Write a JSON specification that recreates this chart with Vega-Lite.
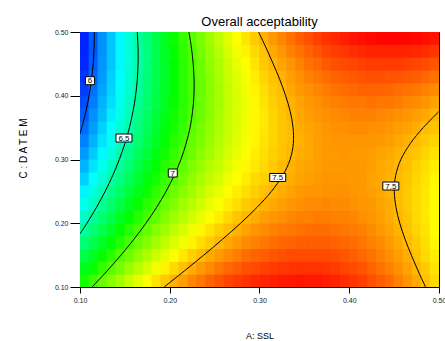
{
"$schema":"https://vega.github.io/schema/vega-lite/v6.json",
"width":359,"height":255,
"autosize":{"type":"none"},
"padding":{"left":80,"top":32,"right":6,"bottom":54},
"background":"white",
"config":{"view":{"stroke":"black","strokeWidth":1},"font":"Liberation Sans"},
"title":{"text":"Overall acceptability","fontSize":13,"fontWeight":"normal","font":"Liberation Sans","color":"black","offset":5,"baseline":"bottom","anchor":"middle","frame":"group","dy":19},
"datasets":{
"grid":[
{"A":0.105,"C":0.11,"z":6.88},{"A":0.115,"C":0.11,"z":6.96},{"A":0.125,"C":0.11,"z":7.04},{"A":0.135,"C":0.11,"z":7.11},{"A":0.145,"C":0.11,"z":7.17},{"A":0.155,"C":0.11,"z":7.24},{"A":0.165,"C":0.11,"z":7.30},{"A":0.175,"C":0.11,"z":7.36},{"A":0.185,"C":0.11,"z":7.41},{"A":0.195,"C":0.11,"z":7.46},{"A":0.205,"C":0.11,"z":7.51},{"A":0.215,"C":0.11,"z":7.55},{"A":0.225,"C":0.11,"z":7.60},{"A":0.235,"C":0.11,"z":7.63},{"A":0.245,"C":0.11,"z":7.67},{"A":0.255,"C":0.11,"z":7.70},{"A":0.265,"C":0.11,"z":7.73},{"A":0.275,"C":0.11,"z":7.75},{"A":0.285,"C":0.11,"z":7.77},{"A":0.295,"C":0.11,"z":7.79},{"A":0.305,"C":0.11,"z":7.80},{"A":0.315,"C":0.11,"z":7.81},{"A":0.325,"C":0.11,"z":7.82},{"A":0.335,"C":0.11,"z":7.82},{"A":0.345,"C":0.11,"z":7.83},{"A":0.355,"C":0.11,"z":7.82},{"A":0.365,"C":0.11,"z":7.82},{"A":0.375,"C":0.11,"z":7.81},{"A":0.385,"C":0.11,"z":7.80},{"A":0.395,"C":0.11,"z":7.78},{"A":0.405,"C":0.11,"z":7.76},{"A":0.415,"C":0.11,"z":7.74},{"A":0.425,"C":0.11,"z":7.71},{"A":0.435,"C":0.11,"z":7.68},{"A":0.445,"C":0.11,"z":7.65},{"A":0.455,"C":0.11,"z":7.61},{"A":0.465,"C":0.11,"z":7.57},{"A":0.475,"C":0.11,"z":7.53},{"A":0.485,"C":0.11,"z":7.48},{"A":0.495,"C":0.11,"z":7.43},
{"A":0.105,"C":0.13,"z":6.78},{"A":0.115,"C":0.13,"z":6.86},{"A":0.125,"C":0.13,"z":6.94},{"A":0.135,"C":0.13,"z":7.01},{"A":0.145,"C":0.13,"z":7.08},{"A":0.155,"C":0.13,"z":7.15},{"A":0.165,"C":0.13,"z":7.21},{"A":0.175,"C":0.13,"z":7.27},{"A":0.185,"C":0.13,"z":7.33},{"A":0.195,"C":0.13,"z":7.38},{"A":0.205,"C":0.13,"z":7.43},{"A":0.215,"C":0.13,"z":7.48},{"A":0.225,"C":0.13,"z":7.52},{"A":0.235,"C":0.13,"z":7.56},{"A":0.245,"C":0.13,"z":7.59},{"A":0.255,"C":0.13,"z":7.63},{"A":0.265,"C":0.13,"z":7.66},{"A":0.275,"C":0.13,"z":7.68},{"A":0.285,"C":0.13,"z":7.71},{"A":0.295,"C":0.13,"z":7.72},{"A":0.305,"C":0.13,"z":7.74},{"A":0.315,"C":0.13,"z":7.75},{"A":0.325,"C":0.13,"z":7.76},{"A":0.335,"C":0.13,"z":7.77},{"A":0.345,"C":0.13,"z":7.77},{"A":0.355,"C":0.13,"z":7.77},{"A":0.365,"C":0.13,"z":7.77},{"A":0.375,"C":0.13,"z":7.76},{"A":0.385,"C":0.13,"z":7.75},{"A":0.395,"C":0.13,"z":7.73},{"A":0.405,"C":0.13,"z":7.72},{"A":0.415,"C":0.13,"z":7.70},{"A":0.425,"C":0.13,"z":7.67},{"A":0.435,"C":0.13,"z":7.64},{"A":0.445,"C":0.13,"z":7.61},{"A":0.455,"C":0.13,"z":7.58},{"A":0.465,"C":0.13,"z":7.54},{"A":0.475,"C":0.13,"z":7.50},{"A":0.485,"C":0.13,"z":7.46},{"A":0.495,"C":0.13,"z":7.41},
{"A":0.105,"C":0.15,"z":6.69},{"A":0.115,"C":0.15,"z":6.77},{"A":0.125,"C":0.15,"z":6.85},{"A":0.135,"C":0.15,"z":6.92},{"A":0.145,"C":0.15,"z":7.00},{"A":0.155,"C":0.15,"z":7.06},{"A":0.165,"C":0.15,"z":7.13},{"A":0.175,"C":0.15,"z":7.19},{"A":0.185,"C":0.15,"z":7.25},{"A":0.195,"C":0.15,"z":7.30},{"A":0.205,"C":0.15,"z":7.35},{"A":0.215,"C":0.15,"z":7.40},{"A":0.225,"C":0.15,"z":7.45},{"A":0.235,"C":0.15,"z":7.49},{"A":0.245,"C":0.15,"z":7.53},{"A":0.255,"C":0.15,"z":7.56},{"A":0.265,"C":0.15,"z":7.59},{"A":0.275,"C":0.15,"z":7.62},{"A":0.285,"C":0.15,"z":7.65},{"A":0.295,"C":0.15,"z":7.67},{"A":0.305,"C":0.15,"z":7.68},{"A":0.315,"C":0.15,"z":7.70},{"A":0.325,"C":0.15,"z":7.71},{"A":0.335,"C":0.15,"z":7.72},{"A":0.345,"C":0.15,"z":7.72},{"A":0.355,"C":0.15,"z":7.72},{"A":0.365,"C":0.15,"z":7.72},{"A":0.375,"C":0.15,"z":7.72},{"A":0.385,"C":0.15,"z":7.71},{"A":0.395,"C":0.15,"z":7.70},{"A":0.405,"C":0.15,"z":7.68},{"A":0.415,"C":0.15,"z":7.66},{"A":0.425,"C":0.15,"z":7.64},{"A":0.435,"C":0.15,"z":7.61},{"A":0.445,"C":0.15,"z":7.58},{"A":0.455,"C":0.15,"z":7.55},{"A":0.465,"C":0.15,"z":7.52},{"A":0.475,"C":0.15,"z":7.48},{"A":0.485,"C":0.15,"z":7.43},{"A":0.495,"C":0.15,"z":7.39},
{"A":0.105,"C":0.17,"z":6.60},{"A":0.115,"C":0.17,"z":6.68},{"A":0.125,"C":0.17,"z":6.76},{"A":0.135,"C":0.17,"z":6.84},{"A":0.145,"C":0.17,"z":6.91},{"A":0.155,"C":0.17,"z":6.98},{"A":0.165,"C":0.17,"z":7.05},{"A":0.175,"C":0.17,"z":7.11},{"A":0.185,"C":0.17,"z":7.17},{"A":0.195,"C":0.17,"z":7.23},{"A":0.205,"C":0.17,"z":7.28},{"A":0.215,"C":0.17,"z":7.33},{"A":0.225,"C":0.17,"z":7.38},{"A":0.235,"C":0.17,"z":7.42},{"A":0.245,"C":0.17,"z":7.46},{"A":0.255,"C":0.17,"z":7.50},{"A":0.265,"C":0.17,"z":7.53},{"A":0.275,"C":0.17,"z":7.56},{"A":0.285,"C":0.17,"z":7.59},{"A":0.295,"C":0.17,"z":7.61},{"A":0.305,"C":0.17,"z":7.63},{"A":0.315,"C":0.17,"z":7.65},{"A":0.325,"C":0.17,"z":7.66},{"A":0.335,"C":0.17,"z":7.67},{"A":0.345,"C":0.17,"z":7.68},{"A":0.355,"C":0.17,"z":7.68},{"A":0.365,"C":0.17,"z":7.68},{"A":0.375,"C":0.17,"z":7.68},{"A":0.385,"C":0.17,"z":7.67},{"A":0.395,"C":0.17,"z":7.66},{"A":0.405,"C":0.17,"z":7.65},{"A":0.415,"C":0.17,"z":7.63},{"A":0.425,"C":0.17,"z":7.61},{"A":0.435,"C":0.17,"z":7.59},{"A":0.445,"C":0.17,"z":7.56},{"A":0.455,"C":0.17,"z":7.53},{"A":0.465,"C":0.17,"z":7.49},{"A":0.475,"C":0.17,"z":7.46},{"A":0.485,"C":0.17,"z":7.42},{"A":0.495,"C":0.17,"z":7.37},
{"A":0.105,"C":0.19,"z":6.52},{"A":0.115,"C":0.19,"z":6.60},{"A":0.125,"C":0.19,"z":6.68},{"A":0.135,"C":0.19,"z":6.76},{"A":0.145,"C":0.19,"z":6.84},{"A":0.155,"C":0.19,"z":6.91},{"A":0.165,"C":0.19,"z":6.98},{"A":0.175,"C":0.19,"z":7.04},{"A":0.185,"C":0.19,"z":7.11},{"A":0.195,"C":0.19,"z":7.16},{"A":0.205,"C":0.19,"z":7.22},{"A":0.215,"C":0.19,"z":7.27},{"A":0.225,"C":0.19,"z":7.32},{"A":0.235,"C":0.19,"z":7.37},{"A":0.245,"C":0.19,"z":7.41},{"A":0.255,"C":0.19,"z":7.45},{"A":0.265,"C":0.19,"z":7.48},{"A":0.275,"C":0.19,"z":7.51},{"A":0.285,"C":0.19,"z":7.54},{"A":0.295,"C":0.19,"z":7.57},{"A":0.305,"C":0.19,"z":7.59},{"A":0.315,"C":0.19,"z":7.61},{"A":0.325,"C":0.19,"z":7.62},{"A":0.335,"C":0.19,"z":7.63},{"A":0.345,"C":0.19,"z":7.64},{"A":0.355,"C":0.19,"z":7.65},{"A":0.365,"C":0.19,"z":7.65},{"A":0.375,"C":0.19,"z":7.65},{"A":0.385,"C":0.19,"z":7.64},{"A":0.395,"C":0.19,"z":7.63},{"A":0.405,"C":0.19,"z":7.62},{"A":0.415,"C":0.19,"z":7.61},{"A":0.425,"C":0.19,"z":7.59},{"A":0.435,"C":0.19,"z":7.56},{"A":0.445,"C":0.19,"z":7.54},{"A":0.455,"C":0.19,"z":7.51},{"A":0.465,"C":0.19,"z":7.48},{"A":0.475,"C":0.19,"z":7.44},{"A":0.485,"C":0.19,"z":7.41},{"A":0.495,"C":0.19,"z":7.36},
{"A":0.105,"C":0.21,"z":6.44},{"A":0.115,"C":0.21,"z":6.53},{"A":0.125,"C":0.21,"z":6.61},{"A":0.135,"C":0.21,"z":6.69},{"A":0.145,"C":0.21,"z":6.77},{"A":0.155,"C":0.21,"z":6.84},{"A":0.165,"C":0.21,"z":6.91},{"A":0.175,"C":0.21,"z":6.98},{"A":0.185,"C":0.21,"z":7.04},{"A":0.195,"C":0.21,"z":7.10},{"A":0.205,"C":0.21,"z":7.16},{"A":0.215,"C":0.21,"z":7.21},{"A":0.225,"C":0.21,"z":7.26},{"A":0.235,"C":0.21,"z":7.31},{"A":0.245,"C":0.21,"z":7.35},{"A":0.255,"C":0.21,"z":7.39},{"A":0.265,"C":0.21,"z":7.43},{"A":0.275,"C":0.21,"z":7.47},{"A":0.285,"C":0.21,"z":7.50},{"A":0.295,"C":0.21,"z":7.52},{"A":0.305,"C":0.21,"z":7.55},{"A":0.315,"C":0.21,"z":7.57},{"A":0.325,"C":0.21,"z":7.58},{"A":0.335,"C":0.21,"z":7.60},{"A":0.345,"C":0.21,"z":7.61},{"A":0.355,"C":0.21,"z":7.61},{"A":0.365,"C":0.21,"z":7.62},{"A":0.375,"C":0.21,"z":7.62},{"A":0.385,"C":0.21,"z":7.61},{"A":0.395,"C":0.21,"z":7.61},{"A":0.405,"C":0.21,"z":7.60},{"A":0.415,"C":0.21,"z":7.58},{"A":0.425,"C":0.21,"z":7.57},{"A":0.435,"C":0.21,"z":7.55},{"A":0.445,"C":0.21,"z":7.52},{"A":0.455,"C":0.21,"z":7.50},{"A":0.465,"C":0.21,"z":7.47},{"A":0.475,"C":0.21,"z":7.43},{"A":0.485,"C":0.21,"z":7.40},{"A":0.495,"C":0.21,"z":7.36},
{"A":0.105,"C":0.23,"z":6.36},{"A":0.115,"C":0.23,"z":6.45},{"A":0.125,"C":0.23,"z":6.54},{"A":0.135,"C":0.23,"z":6.62},{"A":0.145,"C":0.23,"z":6.70},{"A":0.155,"C":0.23,"z":6.78},{"A":0.165,"C":0.23,"z":6.85},{"A":0.175,"C":0.23,"z":6.92},{"A":0.185,"C":0.23,"z":6.98},{"A":0.195,"C":0.23,"z":7.05},{"A":0.205,"C":0.23,"z":7.10},{"A":0.215,"C":0.23,"z":7.16},{"A":0.225,"C":0.23,"z":7.21},{"A":0.235,"C":0.23,"z":7.26},{"A":0.245,"C":0.23,"z":7.31},{"A":0.255,"C":0.23,"z":7.35},{"A":0.265,"C":0.23,"z":7.39},{"A":0.275,"C":0.23,"z":7.42},{"A":0.285,"C":0.23,"z":7.46},{"A":0.295,"C":0.23,"z":7.48},{"A":0.305,"C":0.23,"z":7.51},{"A":0.315,"C":0.23,"z":7.53},{"A":0.325,"C":0.23,"z":7.55},{"A":0.335,"C":0.23,"z":7.57},{"A":0.345,"C":0.23,"z":7.58},{"A":0.355,"C":0.23,"z":7.59},{"A":0.365,"C":0.23,"z":7.59},{"A":0.375,"C":0.23,"z":7.60},{"A":0.385,"C":0.23,"z":7.59},{"A":0.395,"C":0.23,"z":7.59},{"A":0.405,"C":0.23,"z":7.58},{"A":0.415,"C":0.23,"z":7.57},{"A":0.425,"C":0.23,"z":7.56},{"A":0.435,"C":0.23,"z":7.54},{"A":0.445,"C":0.23,"z":7.52},{"A":0.455,"C":0.23,"z":7.49},{"A":0.465,"C":0.23,"z":7.46},{"A":0.475,"C":0.23,"z":7.43},{"A":0.485,"C":0.23,"z":7.40},{"A":0.495,"C":0.23,"z":7.36},
{"A":0.105,"C":0.25,"z":6.30},{"A":0.115,"C":0.25,"z":6.39},{"A":0.125,"C":0.25,"z":6.47},{"A":0.135,"C":0.25,"z":6.56},{"A":0.145,"C":0.25,"z":6.64},{"A":0.155,"C":0.25,"z":6.72},{"A":0.165,"C":0.25,"z":6.79},{"A":0.175,"C":0.25,"z":6.86},{"A":0.185,"C":0.25,"z":6.93},{"A":0.195,"C":0.25,"z":6.99},{"A":0.205,"C":0.25,"z":7.06},{"A":0.215,"C":0.25,"z":7.11},{"A":0.225,"C":0.25,"z":7.17},{"A":0.235,"C":0.25,"z":7.22},{"A":0.245,"C":0.25,"z":7.27},{"A":0.255,"C":0.25,"z":7.31},{"A":0.265,"C":0.25,"z":7.35},{"A":0.275,"C":0.25,"z":7.39},{"A":0.285,"C":0.25,"z":7.42},{"A":0.295,"C":0.25,"z":7.45},{"A":0.305,"C":0.25,"z":7.48},{"A":0.315,"C":0.25,"z":7.50},{"A":0.325,"C":0.25,"z":7.52},{"A":0.335,"C":0.25,"z":7.54},{"A":0.345,"C":0.25,"z":7.56},{"A":0.355,"C":0.25,"z":7.57},{"A":0.365,"C":0.25,"z":7.57},{"A":0.375,"C":0.25,"z":7.58},{"A":0.385,"C":0.25,"z":7.58},{"A":0.395,"C":0.25,"z":7.58},{"A":0.405,"C":0.25,"z":7.57},{"A":0.415,"C":0.25,"z":7.56},{"A":0.425,"C":0.25,"z":7.55},{"A":0.435,"C":0.25,"z":7.53},{"A":0.445,"C":0.25,"z":7.51},{"A":0.455,"C":0.25,"z":7.49},{"A":0.465,"C":0.25,"z":7.46},{"A":0.475,"C":0.25,"z":7.43},{"A":0.485,"C":0.25,"z":7.40},{"A":0.495,"C":0.25,"z":7.36},
{"A":0.105,"C":0.27,"z":6.23},{"A":0.115,"C":0.27,"z":6.33},{"A":0.125,"C":0.27,"z":6.41},{"A":0.135,"C":0.27,"z":6.50},{"A":0.145,"C":0.27,"z":6.58},{"A":0.155,"C":0.27,"z":6.66},{"A":0.165,"C":0.27,"z":6.74},{"A":0.175,"C":0.27,"z":6.81},{"A":0.185,"C":0.27,"z":6.88},{"A":0.195,"C":0.27,"z":6.95},{"A":0.205,"C":0.27,"z":7.01},{"A":0.215,"C":0.27,"z":7.07},{"A":0.225,"C":0.27,"z":7.13},{"A":0.235,"C":0.27,"z":7.18},{"A":0.245,"C":0.27,"z":7.23},{"A":0.255,"C":0.27,"z":7.27},{"A":0.265,"C":0.27,"z":7.32},{"A":0.275,"C":0.27,"z":7.36},{"A":0.285,"C":0.27,"z":7.39},{"A":0.295,"C":0.27,"z":7.43},{"A":0.305,"C":0.27,"z":7.45},{"A":0.315,"C":0.27,"z":7.48},{"A":0.325,"C":0.27,"z":7.50},{"A":0.335,"C":0.27,"z":7.52},{"A":0.345,"C":0.27,"z":7.54},{"A":0.355,"C":0.27,"z":7.55},{"A":0.365,"C":0.27,"z":7.56},{"A":0.375,"C":0.27,"z":7.57},{"A":0.385,"C":0.27,"z":7.57},{"A":0.395,"C":0.27,"z":7.57},{"A":0.405,"C":0.27,"z":7.56},{"A":0.415,"C":0.27,"z":7.56},{"A":0.425,"C":0.27,"z":7.54},{"A":0.435,"C":0.27,"z":7.53},{"A":0.445,"C":0.27,"z":7.51},{"A":0.455,"C":0.27,"z":7.49},{"A":0.465,"C":0.27,"z":7.47},{"A":0.475,"C":0.27,"z":7.44},{"A":0.485,"C":0.27,"z":7.41},{"A":0.495,"C":0.27,"z":7.37},
{"A":0.105,"C":0.29,"z":6.17},{"A":0.115,"C":0.29,"z":6.27},{"A":0.125,"C":0.29,"z":6.36},{"A":0.135,"C":0.29,"z":6.45},{"A":0.145,"C":0.29,"z":6.53},{"A":0.155,"C":0.29,"z":6.61},{"A":0.165,"C":0.29,"z":6.69},{"A":0.175,"C":0.29,"z":6.77},{"A":0.185,"C":0.29,"z":6.84},{"A":0.195,"C":0.29,"z":6.91},{"A":0.205,"C":0.29,"z":6.97},{"A":0.215,"C":0.29,"z":7.03},{"A":0.225,"C":0.29,"z":7.09},{"A":0.235,"C":0.29,"z":7.15},{"A":0.245,"C":0.29,"z":7.20},{"A":0.255,"C":0.29,"z":7.24},{"A":0.265,"C":0.29,"z":7.29},{"A":0.275,"C":0.29,"z":7.33},{"A":0.285,"C":0.29,"z":7.37},{"A":0.295,"C":0.29,"z":7.40},{"A":0.305,"C":0.29,"z":7.43},{"A":0.315,"C":0.29,"z":7.46},{"A":0.325,"C":0.29,"z":7.49},{"A":0.335,"C":0.29,"z":7.51},{"A":0.345,"C":0.29,"z":7.53},{"A":0.355,"C":0.29,"z":7.54},{"A":0.365,"C":0.29,"z":7.55},{"A":0.375,"C":0.29,"z":7.56},{"A":0.385,"C":0.29,"z":7.56},{"A":0.395,"C":0.29,"z":7.56},{"A":0.405,"C":0.29,"z":7.56},{"A":0.415,"C":0.29,"z":7.56},{"A":0.425,"C":0.29,"z":7.55},{"A":0.435,"C":0.29,"z":7.53},{"A":0.445,"C":0.29,"z":7.52},{"A":0.455,"C":0.29,"z":7.50},{"A":0.465,"C":0.29,"z":7.48},{"A":0.475,"C":0.29,"z":7.45},{"A":0.485,"C":0.29,"z":7.42},{"A":0.495,"C":0.29,"z":7.39},
{"A":0.105,"C":0.31,"z":6.12},{"A":0.115,"C":0.31,"z":6.22},{"A":0.125,"C":0.31,"z":6.31},{"A":0.135,"C":0.31,"z":6.40},{"A":0.145,"C":0.31,"z":6.49},{"A":0.155,"C":0.31,"z":6.57},{"A":0.165,"C":0.31,"z":6.65},{"A":0.175,"C":0.31,"z":6.73},{"A":0.185,"C":0.31,"z":6.80},{"A":0.195,"C":0.31,"z":6.87},{"A":0.205,"C":0.31,"z":6.94},{"A":0.215,"C":0.31,"z":7.00},{"A":0.225,"C":0.31,"z":7.06},{"A":0.235,"C":0.31,"z":7.12},{"A":0.245,"C":0.31,"z":7.17},{"A":0.255,"C":0.31,"z":7.22},{"A":0.265,"C":0.31,"z":7.27},{"A":0.275,"C":0.31,"z":7.31},{"A":0.285,"C":0.31,"z":7.35},{"A":0.295,"C":0.31,"z":7.39},{"A":0.305,"C":0.31,"z":7.42},{"A":0.315,"C":0.31,"z":7.45},{"A":0.325,"C":0.31,"z":7.47},{"A":0.335,"C":0.31,"z":7.50},{"A":0.345,"C":0.31,"z":7.52},{"A":0.355,"C":0.31,"z":7.53},{"A":0.365,"C":0.31,"z":7.55},{"A":0.375,"C":0.31,"z":7.56},{"A":0.385,"C":0.31,"z":7.56},{"A":0.395,"C":0.31,"z":7.57},{"A":0.405,"C":0.31,"z":7.56},{"A":0.415,"C":0.31,"z":7.56},{"A":0.425,"C":0.31,"z":7.55},{"A":0.435,"C":0.31,"z":7.54},{"A":0.445,"C":0.31,"z":7.53},{"A":0.455,"C":0.31,"z":7.51},{"A":0.465,"C":0.31,"z":7.49},{"A":0.475,"C":0.31,"z":7.47},{"A":0.485,"C":0.31,"z":7.44},{"A":0.495,"C":0.31,"z":7.41},
{"A":0.105,"C":0.33,"z":6.07},{"A":0.115,"C":0.33,"z":6.17},{"A":0.125,"C":0.33,"z":6.27},{"A":0.135,"C":0.33,"z":6.36},{"A":0.145,"C":0.33,"z":6.45},{"A":0.155,"C":0.33,"z":6.53},{"A":0.165,"C":0.33,"z":6.61},{"A":0.175,"C":0.33,"z":6.69},{"A":0.185,"C":0.33,"z":6.77},{"A":0.195,"C":0.33,"z":6.84},{"A":0.205,"C":0.33,"z":6.91},{"A":0.215,"C":0.33,"z":6.97},{"A":0.225,"C":0.33,"z":7.04},{"A":0.235,"C":0.33,"z":7.09},{"A":0.245,"C":0.33,"z":7.15},{"A":0.255,"C":0.33,"z":7.20},{"A":0.265,"C":0.33,"z":7.25},{"A":0.275,"C":0.33,"z":7.29},{"A":0.285,"C":0.33,"z":7.34},{"A":0.295,"C":0.33,"z":7.37},{"A":0.305,"C":0.33,"z":7.41},{"A":0.315,"C":0.33,"z":7.44},{"A":0.325,"C":0.33,"z":7.47},{"A":0.335,"C":0.33,"z":7.49},{"A":0.345,"C":0.33,"z":7.51},{"A":0.355,"C":0.33,"z":7.53},{"A":0.365,"C":0.33,"z":7.55},{"A":0.375,"C":0.33,"z":7.56},{"A":0.385,"C":0.33,"z":7.57},{"A":0.395,"C":0.33,"z":7.57},{"A":0.405,"C":0.33,"z":7.57},{"A":0.415,"C":0.33,"z":7.57},{"A":0.425,"C":0.33,"z":7.57},{"A":0.435,"C":0.33,"z":7.56},{"A":0.445,"C":0.33,"z":7.55},{"A":0.455,"C":0.33,"z":7.53},{"A":0.465,"C":0.33,"z":7.51},{"A":0.475,"C":0.33,"z":7.49},{"A":0.485,"C":0.33,"z":7.46},{"A":0.495,"C":0.33,"z":7.44},
{"A":0.105,"C":0.35,"z":6.03},{"A":0.115,"C":0.35,"z":6.13},{"A":0.125,"C":0.35,"z":6.23},{"A":0.135,"C":0.35,"z":6.32},{"A":0.145,"C":0.35,"z":6.41},{"A":0.155,"C":0.35,"z":6.50},{"A":0.165,"C":0.35,"z":6.58},{"A":0.175,"C":0.35,"z":6.66},{"A":0.185,"C":0.35,"z":6.74},{"A":0.195,"C":0.35,"z":6.81},{"A":0.205,"C":0.35,"z":6.88},{"A":0.215,"C":0.35,"z":6.95},{"A":0.225,"C":0.35,"z":7.02},{"A":0.235,"C":0.35,"z":7.08},{"A":0.245,"C":0.35,"z":7.13},{"A":0.255,"C":0.35,"z":7.19},{"A":0.265,"C":0.35,"z":7.24},{"A":0.275,"C":0.35,"z":7.28},{"A":0.285,"C":0.35,"z":7.33},{"A":0.295,"C":0.35,"z":7.37},{"A":0.305,"C":0.35,"z":7.40},{"A":0.315,"C":0.35,"z":7.44},{"A":0.325,"C":0.35,"z":7.47},{"A":0.335,"C":0.35,"z":7.49},{"A":0.345,"C":0.35,"z":7.52},{"A":0.355,"C":0.35,"z":7.54},{"A":0.365,"C":0.35,"z":7.55},{"A":0.375,"C":0.35,"z":7.57},{"A":0.385,"C":0.35,"z":7.58},{"A":0.395,"C":0.35,"z":7.58},{"A":0.405,"C":0.35,"z":7.59},{"A":0.415,"C":0.35,"z":7.59},{"A":0.425,"C":0.35,"z":7.58},{"A":0.435,"C":0.35,"z":7.58},{"A":0.445,"C":0.35,"z":7.57},{"A":0.455,"C":0.35,"z":7.55},{"A":0.465,"C":0.35,"z":7.54},{"A":0.475,"C":0.35,"z":7.52},{"A":0.485,"C":0.35,"z":7.49},{"A":0.495,"C":0.35,"z":7.47},
{"A":0.105,"C":0.37,"z":5.99},{"A":0.115,"C":0.37,"z":6.10},{"A":0.125,"C":0.37,"z":6.19},{"A":0.135,"C":0.37,"z":6.29},{"A":0.145,"C":0.37,"z":6.38},{"A":0.155,"C":0.37,"z":6.47},{"A":0.165,"C":0.37,"z":6.56},{"A":0.175,"C":0.37,"z":6.64},{"A":0.185,"C":0.37,"z":6.72},{"A":0.195,"C":0.37,"z":6.79},{"A":0.205,"C":0.37,"z":6.87},{"A":0.215,"C":0.37,"z":6.93},{"A":0.225,"C":0.37,"z":7.00},{"A":0.235,"C":0.37,"z":7.06},{"A":0.245,"C":0.37,"z":7.12},{"A":0.255,"C":0.37,"z":7.18},{"A":0.265,"C":0.37,"z":7.23},{"A":0.275,"C":0.37,"z":7.28},{"A":0.285,"C":0.37,"z":7.32},{"A":0.295,"C":0.37,"z":7.37},{"A":0.305,"C":0.37,"z":7.40},{"A":0.315,"C":0.37,"z":7.44},{"A":0.325,"C":0.37,"z":7.47},{"A":0.335,"C":0.37,"z":7.50},{"A":0.345,"C":0.37,"z":7.53},{"A":0.355,"C":0.37,"z":7.55},{"A":0.365,"C":0.37,"z":7.57},{"A":0.375,"C":0.37,"z":7.58},{"A":0.385,"C":0.37,"z":7.59},{"A":0.395,"C":0.37,"z":7.60},{"A":0.405,"C":0.37,"z":7.61},{"A":0.415,"C":0.37,"z":7.61},{"A":0.425,"C":0.37,"z":7.61},{"A":0.435,"C":0.37,"z":7.60},{"A":0.445,"C":0.37,"z":7.59},{"A":0.455,"C":0.37,"z":7.58},{"A":0.465,"C":0.37,"z":7.57},{"A":0.475,"C":0.37,"z":7.55},{"A":0.485,"C":0.37,"z":7.53},{"A":0.495,"C":0.37,"z":7.50},
{"A":0.105,"C":0.39,"z":5.96},{"A":0.115,"C":0.39,"z":6.06},{"A":0.125,"C":0.39,"z":6.17},{"A":0.135,"C":0.39,"z":6.26},{"A":0.145,"C":0.39,"z":6.36},{"A":0.155,"C":0.39,"z":6.45},{"A":0.165,"C":0.39,"z":6.54},{"A":0.175,"C":0.39,"z":6.62},{"A":0.185,"C":0.39,"z":6.70},{"A":0.195,"C":0.39,"z":6.78},{"A":0.205,"C":0.39,"z":6.85},{"A":0.215,"C":0.39,"z":6.92},{"A":0.225,"C":0.39,"z":6.99},{"A":0.235,"C":0.39,"z":7.05},{"A":0.245,"C":0.39,"z":7.12},{"A":0.255,"C":0.39,"z":7.17},{"A":0.265,"C":0.39,"z":7.23},{"A":0.275,"C":0.39,"z":7.28},{"A":0.285,"C":0.39,"z":7.32},{"A":0.295,"C":0.39,"z":7.37},{"A":0.305,"C":0.39,"z":7.41},{"A":0.315,"C":0.39,"z":7.45},{"A":0.325,"C":0.39,"z":7.48},{"A":0.335,"C":0.39,"z":7.51},{"A":0.345,"C":0.39,"z":7.54},{"A":0.355,"C":0.39,"z":7.56},{"A":0.365,"C":0.39,"z":7.58},{"A":0.375,"C":0.39,"z":7.60},{"A":0.385,"C":0.39,"z":7.61},{"A":0.395,"C":0.39,"z":7.62},{"A":0.405,"C":0.39,"z":7.63},{"A":0.415,"C":0.39,"z":7.63},{"A":0.425,"C":0.39,"z":7.64},{"A":0.435,"C":0.39,"z":7.63},{"A":0.445,"C":0.39,"z":7.63},{"A":0.455,"C":0.39,"z":7.62},{"A":0.465,"C":0.39,"z":7.60},{"A":0.475,"C":0.39,"z":7.59},{"A":0.485,"C":0.39,"z":7.57},{"A":0.495,"C":0.39,"z":7.54},
{"A":0.105,"C":0.41,"z":5.93},{"A":0.115,"C":0.41,"z":6.04},{"A":0.125,"C":0.41,"z":6.14},{"A":0.135,"C":0.41,"z":6.24},{"A":0.145,"C":0.41,"z":6.34},{"A":0.155,"C":0.41,"z":6.43},{"A":0.165,"C":0.41,"z":6.52},{"A":0.175,"C":0.41,"z":6.61},{"A":0.185,"C":0.41,"z":6.69},{"A":0.195,"C":0.41,"z":6.77},{"A":0.205,"C":0.41,"z":6.84},{"A":0.215,"C":0.41,"z":6.92},{"A":0.225,"C":0.41,"z":6.99},{"A":0.235,"C":0.41,"z":7.05},{"A":0.245,"C":0.41,"z":7.11},{"A":0.255,"C":0.41,"z":7.17},{"A":0.265,"C":0.41,"z":7.23},{"A":0.275,"C":0.41,"z":7.28},{"A":0.285,"C":0.41,"z":7.33},{"A":0.295,"C":0.41,"z":7.38},{"A":0.305,"C":0.41,"z":7.42},{"A":0.315,"C":0.41,"z":7.46},{"A":0.325,"C":0.41,"z":7.49},{"A":0.335,"C":0.41,"z":7.53},{"A":0.345,"C":0.41,"z":7.56},{"A":0.355,"C":0.41,"z":7.58},{"A":0.365,"C":0.41,"z":7.60},{"A":0.375,"C":0.41,"z":7.62},{"A":0.385,"C":0.41,"z":7.64},{"A":0.395,"C":0.41,"z":7.65},{"A":0.405,"C":0.41,"z":7.66},{"A":0.415,"C":0.41,"z":7.67},{"A":0.425,"C":0.41,"z":7.67},{"A":0.435,"C":0.41,"z":7.67},{"A":0.445,"C":0.41,"z":7.66},{"A":0.455,"C":0.41,"z":7.65},{"A":0.465,"C":0.41,"z":7.64},{"A":0.475,"C":0.41,"z":7.63},{"A":0.485,"C":0.41,"z":7.61},{"A":0.495,"C":0.41,"z":7.59},
{"A":0.105,"C":0.43,"z":5.91},{"A":0.115,"C":0.43,"z":6.02},{"A":0.125,"C":0.43,"z":6.12},{"A":0.135,"C":0.43,"z":6.23},{"A":0.145,"C":0.43,"z":6.32},{"A":0.155,"C":0.43,"z":6.42},{"A":0.165,"C":0.43,"z":6.51},{"A":0.175,"C":0.43,"z":6.60},{"A":0.185,"C":0.43,"z":6.68},{"A":0.195,"C":0.43,"z":6.76},{"A":0.205,"C":0.43,"z":6.84},{"A":0.215,"C":0.43,"z":6.92},{"A":0.225,"C":0.43,"z":6.99},{"A":0.235,"C":0.43,"z":7.05},{"A":0.245,"C":0.43,"z":7.12},{"A":0.255,"C":0.43,"z":7.18},{"A":0.265,"C":0.43,"z":7.24},{"A":0.275,"C":0.43,"z":7.29},{"A":0.285,"C":0.43,"z":7.34},{"A":0.295,"C":0.43,"z":7.39},{"A":0.305,"C":0.43,"z":7.44},{"A":0.315,"C":0.43,"z":7.48},{"A":0.325,"C":0.43,"z":7.51},{"A":0.335,"C":0.43,"z":7.55},{"A":0.345,"C":0.43,"z":7.58},{"A":0.355,"C":0.43,"z":7.61},{"A":0.365,"C":0.43,"z":7.63},{"A":0.375,"C":0.43,"z":7.65},{"A":0.385,"C":0.43,"z":7.67},{"A":0.395,"C":0.43,"z":7.68},{"A":0.405,"C":0.43,"z":7.69},{"A":0.415,"C":0.43,"z":7.70},{"A":0.425,"C":0.43,"z":7.71},{"A":0.435,"C":0.43,"z":7.71},{"A":0.445,"C":0.43,"z":7.70},{"A":0.455,"C":0.43,"z":7.70},{"A":0.465,"C":0.43,"z":7.69},{"A":0.475,"C":0.43,"z":7.68},{"A":0.485,"C":0.43,"z":7.66},{"A":0.495,"C":0.43,"z":7.64},
{"A":0.105,"C":0.45,"z":5.89},{"A":0.115,"C":0.45,"z":6.00},{"A":0.125,"C":0.45,"z":6.11},{"A":0.135,"C":0.45,"z":6.21},{"A":0.145,"C":0.45,"z":6.31},{"A":0.155,"C":0.45,"z":6.41},{"A":0.165,"C":0.45,"z":6.50},{"A":0.175,"C":0.45,"z":6.59},{"A":0.185,"C":0.45,"z":6.68},{"A":0.195,"C":0.45,"z":6.76},{"A":0.205,"C":0.45,"z":6.84},{"A":0.215,"C":0.45,"z":6.92},{"A":0.225,"C":0.45,"z":6.99},{"A":0.235,"C":0.45,"z":7.06},{"A":0.245,"C":0.45,"z":7.13},{"A":0.255,"C":0.45,"z":7.19},{"A":0.265,"C":0.45,"z":7.25},{"A":0.275,"C":0.45,"z":7.31},{"A":0.285,"C":0.45,"z":7.36},{"A":0.295,"C":0.45,"z":7.41},{"A":0.305,"C":0.45,"z":7.46},{"A":0.315,"C":0.45,"z":7.50},{"A":0.325,"C":0.45,"z":7.54},{"A":0.335,"C":0.45,"z":7.57},{"A":0.345,"C":0.45,"z":7.61},{"A":0.355,"C":0.45,"z":7.64},{"A":0.365,"C":0.45,"z":7.66},{"A":0.375,"C":0.45,"z":7.69},{"A":0.385,"C":0.45,"z":7.71},{"A":0.395,"C":0.45,"z":7.72},{"A":0.405,"C":0.45,"z":7.73},{"A":0.415,"C":0.45,"z":7.74},{"A":0.425,"C":0.45,"z":7.75},{"A":0.435,"C":0.45,"z":7.75},{"A":0.445,"C":0.45,"z":7.75},{"A":0.455,"C":0.45,"z":7.75},{"A":0.465,"C":0.45,"z":7.74},{"A":0.475,"C":0.45,"z":7.73},{"A":0.485,"C":0.45,"z":7.72},{"A":0.495,"C":0.45,"z":7.70},
{"A":0.105,"C":0.47,"z":5.88},{"A":0.115,"C":0.47,"z":5.99},{"A":0.125,"C":0.47,"z":6.10},{"A":0.135,"C":0.47,"z":6.21},{"A":0.145,"C":0.47,"z":6.31},{"A":0.155,"C":0.47,"z":6.41},{"A":0.165,"C":0.47,"z":6.50},{"A":0.175,"C":0.47,"z":6.59},{"A":0.185,"C":0.47,"z":6.68},{"A":0.195,"C":0.47,"z":6.77},{"A":0.205,"C":0.47,"z":6.85},{"A":0.215,"C":0.47,"z":6.93},{"A":0.225,"C":0.47,"z":7.00},{"A":0.235,"C":0.47,"z":7.07},{"A":0.245,"C":0.47,"z":7.14},{"A":0.255,"C":0.47,"z":7.21},{"A":0.265,"C":0.47,"z":7.27},{"A":0.275,"C":0.47,"z":7.33},{"A":0.285,"C":0.47,"z":7.38},{"A":0.295,"C":0.47,"z":7.43},{"A":0.305,"C":0.47,"z":7.48},{"A":0.315,"C":0.47,"z":7.53},{"A":0.325,"C":0.47,"z":7.57},{"A":0.335,"C":0.47,"z":7.61},{"A":0.345,"C":0.47,"z":7.64},{"A":0.355,"C":0.47,"z":7.67},{"A":0.365,"C":0.47,"z":7.70},{"A":0.375,"C":0.47,"z":7.73},{"A":0.385,"C":0.47,"z":7.75},{"A":0.395,"C":0.47,"z":7.76},{"A":0.405,"C":0.47,"z":7.78},{"A":0.415,"C":0.47,"z":7.79},{"A":0.425,"C":0.47,"z":7.80},{"A":0.435,"C":0.47,"z":7.80},{"A":0.445,"C":0.47,"z":7.80},{"A":0.455,"C":0.47,"z":7.80},{"A":0.465,"C":0.47,"z":7.80},{"A":0.475,"C":0.47,"z":7.79},{"A":0.485,"C":0.47,"z":7.78},{"A":0.495,"C":0.47,"z":7.76},
{"A":0.105,"C":0.49,"z":5.88},{"A":0.115,"C":0.49,"z":5.99},{"A":0.125,"C":0.49,"z":6.10},{"A":0.135,"C":0.49,"z":6.21},{"A":0.145,"C":0.49,"z":6.31},{"A":0.155,"C":0.49,"z":6.41},{"A":0.165,"C":0.49,"z":6.51},{"A":0.175,"C":0.49,"z":6.60},{"A":0.185,"C":0.49,"z":6.69},{"A":0.195,"C":0.49,"z":6.78},{"A":0.205,"C":0.49,"z":6.86},{"A":0.215,"C":0.49,"z":6.94},{"A":0.225,"C":0.49,"z":7.02},{"A":0.235,"C":0.49,"z":7.09},{"A":0.245,"C":0.49,"z":7.16},{"A":0.255,"C":0.49,"z":7.23},{"A":0.265,"C":0.49,"z":7.29},{"A":0.275,"C":0.49,"z":7.35},{"A":0.285,"C":0.49,"z":7.41},{"A":0.295,"C":0.49,"z":7.46},{"A":0.305,"C":0.49,"z":7.51},{"A":0.315,"C":0.49,"z":7.56},{"A":0.325,"C":0.49,"z":7.60},{"A":0.335,"C":0.49,"z":7.64},{"A":0.345,"C":0.49,"z":7.68},{"A":0.355,"C":0.49,"z":7.71},{"A":0.365,"C":0.49,"z":7.74},{"A":0.375,"C":0.49,"z":7.77},{"A":0.385,"C":0.49,"z":7.79},{"A":0.395,"C":0.49,"z":7.81},{"A":0.405,"C":0.49,"z":7.83},{"A":0.415,"C":0.49,"z":7.84},{"A":0.425,"C":0.49,"z":7.85},{"A":0.435,"C":0.49,"z":7.86},{"A":0.445,"C":0.49,"z":7.86},{"A":0.455,"C":0.49,"z":7.86},{"A":0.465,"C":0.49,"z":7.86},{"A":0.475,"C":0.49,"z":7.85},{"A":0.485,"C":0.49,"z":7.84},{"A":0.495,"C":0.49,"z":7.83}
],
"lines":[
{"lv":"6","A":0.1,"C":0.3401},{"lv":"6","A":0.102,"C":0.35},{"lv":"6","A":0.1065,"C":0.375},{"lv":"6","A":0.1101,"C":0.4},{"lv":"6","A":0.1128,"C":0.425},{"lv":"6","A":0.1147,"C":0.45},{"lv":"6","A":0.1157,"C":0.475},{"lv":"6","A":0.116,"C":0.5},
{"lv":"6.5","A":0.1,"C":0.1834},{"lv":"6.5","A":0.1077,"C":0.2},{"lv":"6.5","A":0.1184,"C":0.225},{"lv":"6.5","A":0.128,"C":0.25},{"lv":"6.5","A":0.1365,"C":0.275},{"lv":"6.5","A":0.1438,"C":0.3},{"lv":"6.5","A":0.15,"C":0.325},{"lv":"6.5","A":0.1551,"C":0.35},{"lv":"6.5","A":0.159,"C":0.375},{"lv":"6.5","A":0.1619,"C":0.4},{"lv":"6.5","A":0.1638,"C":0.425},{"lv":"6.5","A":0.1647,"C":0.45},{"lv":"6.5","A":0.1647,"C":0.475},{"lv":"6.5","A":0.1638,"C":0.5},
{"lv":"7","A":0.1135,"C":0.1},{"lv":"7","A":0.13,"C":0.125},{"lv":"7","A":0.1456,"C":0.15},{"lv":"7","A":0.1601,"C":0.175},{"lv":"7","A":0.1734,"C":0.2},{"lv":"7","A":0.1854,"C":0.225},{"lv":"7","A":0.1959,"C":0.25},{"lv":"7","A":0.2049,"C":0.275},{"lv":"7","A":0.2124,"C":0.3},{"lv":"7","A":0.2182,"C":0.325},{"lv":"7","A":0.2226,"C":0.35},{"lv":"7","A":0.2254,"C":0.375},{"lv":"7","A":0.2269,"C":0.4},{"lv":"7","A":0.2271,"C":0.425},{"lv":"7","A":0.2261,"C":0.45},{"lv":"7","A":0.2242,"C":0.475},{"lv":"7","A":0.2213,"C":0.5},
{"lv":"7.5a","A":0.1938,"C":0.1},{"lv":"7.5a","A":0.2161,"C":0.125},{"lv":"7.5a","A":0.2379,"C":0.15},{"lv":"7.5a","A":0.2589,"C":0.175},{"lv":"7.5a","A":0.2789,"C":0.2},{"lv":"7.5a","A":0.2973,"C":0.225},{"lv":"7.5a","A":0.3133,"C":0.25},{"lv":"7.5a","A":0.3259,"C":0.275},{"lv":"7.5a","A":0.3341,"C":0.3},{"lv":"7.5a","A":0.3377,"C":0.325},{"lv":"7.5a","A":0.3374,"C":0.35},{"lv":"7.5a","A":0.3343,"C":0.375},{"lv":"7.5a","A":0.3291,"C":0.4},{"lv":"7.5a","A":0.3227,"C":0.425},{"lv":"7.5a","A":0.3153,"C":0.45},{"lv":"7.5a","A":0.3074,"C":0.475},{"lv":"7.5a","A":0.299,"C":0.5},
{"lv":"7.5b","A":0.485,"C":0.1},{"lv":"7.5b","A":0.4768,"C":0.125},{"lv":"7.5b","A":0.4692,"C":0.15},{"lv":"7.5b","A":0.4622,"C":0.175},{"lv":"7.5b","A":0.4563,"C":0.2},{"lv":"7.5b","A":0.4521,"C":0.225},{"lv":"7.5b","A":0.4502,"C":0.25},{"lv":"7.5b","A":0.4517,"C":0.275},{"lv":"7.5b","A":0.4575,"C":0.3},{"lv":"7.5b","A":0.468,"C":0.325},{"lv":"7.5b","A":0.4824,"C":0.35},{"lv":"7.5b","A":0.5,"C":0.3754}
],
"labels":[
{"t":"6","A":0.1111,"C":0.4236},{"t":"6.5","A":0.149,"C":0.3337},{"t":"7","A":0.2034,"C":0.2788},{"t":"7.5","A":0.3203,"C":0.2718},{"t":"7.5","A":0.4463,"C":0.2584}
]
},
"encoding":{
"x":{"field":"A","type":"quantitative","scale":{"domain":[0.1,0.5],"nice":false,"zero":false},
 "axis":{"values":[0.1,0.2,0.3,0.4,0.5],"format":".2f","title":"A: SSL","domain":false,"grid":false,"tickSize":6,"tickColor":"black","tickWidth":1,"labelFontSize":7,"labelColor":"#222222","labelFont":"Liberation Sans","labelPadding":3,"labelFlush":false,"labelOverlap":false,"labelBound":false,"titleFont":"Liberation Sans","titleFontSize":9,"titleFontWeight":"normal","titleColor":"black","titleY":48,"titleBaseline":"middle"}},
"y":{"field":"C","type":"quantitative","scale":{"domain":[0.1,0.5],"nice":false,"zero":false},
 "axis":{"values":[0.1,0.2,0.3,0.4,0.5],"format":".2f","title":"C : D A T E M","domain":false,"grid":false,"tickSize":10,"tickColor":"black","tickWidth":1,"labelFontSize":7,"labelColor":"#222222","labelFont":"Liberation Sans","labelPadding":2,"labelFlush":false,"labelOverlap":false,"labelBound":false,"titleFont":"Liberation Sans","titleFontSize":10,"titleFontWeight":"normal","titleColor":"black","titleX":-57,"titleY":116,"titleAngle":-90,"titleBaseline":"middle","titleAlign":"center"}}
},
"layer":[
{"data":{"name":"grid"},"mark":{"type":"rect","width":9.6,"height":13.4,"clip":true},
 "encoding":{"color":{"field":"z","type":"quantitative","legend":null,
   "scale":{"type":"linear","domain":[5.81,6.325,6.84,7.355,7.87],"range":["#0000ff","#00ffff","#00ff00","#ffff00","#ff0000"],"interpolate":"rgb","clamp":true}}}},
{"data":{"name":"lines"},"mark":{"type":"line","color":"black","strokeWidth":1,"clip":true,"interpolate":"cardinal"},
 "encoding":{"detail":{"field":"lv"},"order":{"field":"C","type":"quantitative"}}},
{"data":{"name":"labels"},"transform":[{"filter":"length(datum.t) > 1"}],"mark":{"type":"rect","width":16,"height":8,"fill":"white","stroke":"black","strokeWidth":1},"encoding":{}},
{"data":{"name":"labels"},"transform":[{"filter":"length(datum.t) == 1"}],"mark":{"type":"rect","width":9,"height":8,"fill":"white","stroke":"black","strokeWidth":1},"encoding":{}},
{"data":{"name":"labels"},"mark":{"type":"text","fontSize":8,"color":"black","font":"Liberation Sans","dy":0.5},"encoding":{"text":{"field":"t"}}}
]
}
